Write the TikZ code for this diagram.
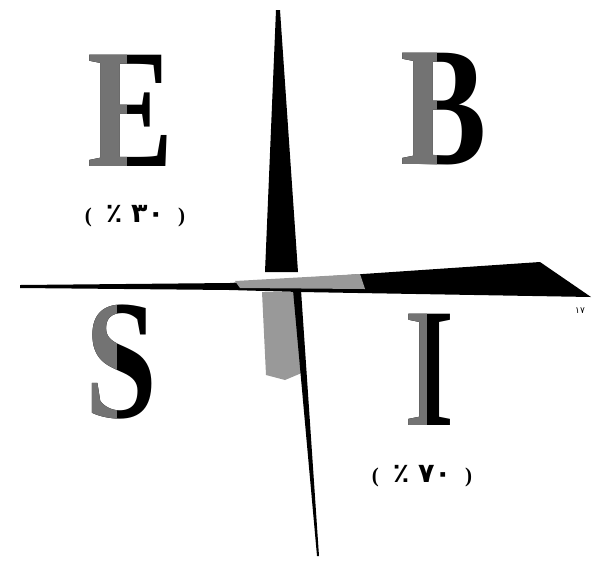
\documentclass[tikz,border=0pt]{standalone}
\usepackage{fontspec}
\setmainfont{Liberation Serif}
\newfontfamily\arabicfont{DejaVu Sans}
\tikzset{
  bigletter/.style={inner sep=0pt, font=\bfseries\fontsize{170}{170}\selectfont},
  pctlabel/.style={inner sep=0pt, font=\bfseries\fontsize{21}{21}\selectfont},
  wedge/.style={fill=black, draw=none},
  grain/.style={fill=black!40, draw=none},
}
\newcommand{\twotone}[5]{% name, x, y, letter, clip right x
  \node[bigletter, text=black] (#1) at (#2,#3) {\scalebox{0.76}[1]{#4}};
  \begin{scope}
    \clip (0,0) rectangle (#5,563);
    \node[bigletter, text=black!55] at (#2,#3) {\scalebox{0.76}[1]{#4}};
  \end{scope}
}
\newcommand{\pct}[1]{(\hspace{14pt}{\arabicfont\bfseries\fontsize{27}{27}\selectfont ٪\hspace{9pt}#1}\hspace{14pt})}
\begin{document}
\begin{tikzpicture}[x=1pt,y=-1pt]
\useasboundingbox (0,0) rectangle (593,563);
% vertical upper spike
\fill[wedge] (276,10) -- (280,10) -- (298,272) -- (265,272) -- cycle;
% horizontal wedge
\fill[wedge] (20,285) -- (230,283) -- (540,262) -- (591,297) -- (300,292) -- (230,290) -- (20,288) -- cycle;
\fill[grain] (235,281) -- (360,274) -- (365,289) -- (240,288) -- cycle;
% lower vertical part
\fill[grain] (262,292) -- (300,292) -- (304,372) -- (285,380) -- (266,375) -- cycle;
\fill[wedge] (293,290) -- (301,290) -- (319,556) -- (317,556) -- cycle;
% letters
\twotone{E}{131}{111}{E}{126}
\twotone{B}{444}{109}{B}{436}
\twotone{S}{121}{362}{S}{116}
\twotone{I}{430}{370}{I}{426}
% labels
\node[pctlabel] (l30) at (135,216) {\pct{۳۰}};
\node[pctlabel] (l70) at (422,476) {\pct{۷۰}};
\node[inner sep=0pt, font=\arabicfont\fontsize{9}{9}\selectfont] (pg) at (580,311) {۱۷};
\end{tikzpicture}
\end{document}
